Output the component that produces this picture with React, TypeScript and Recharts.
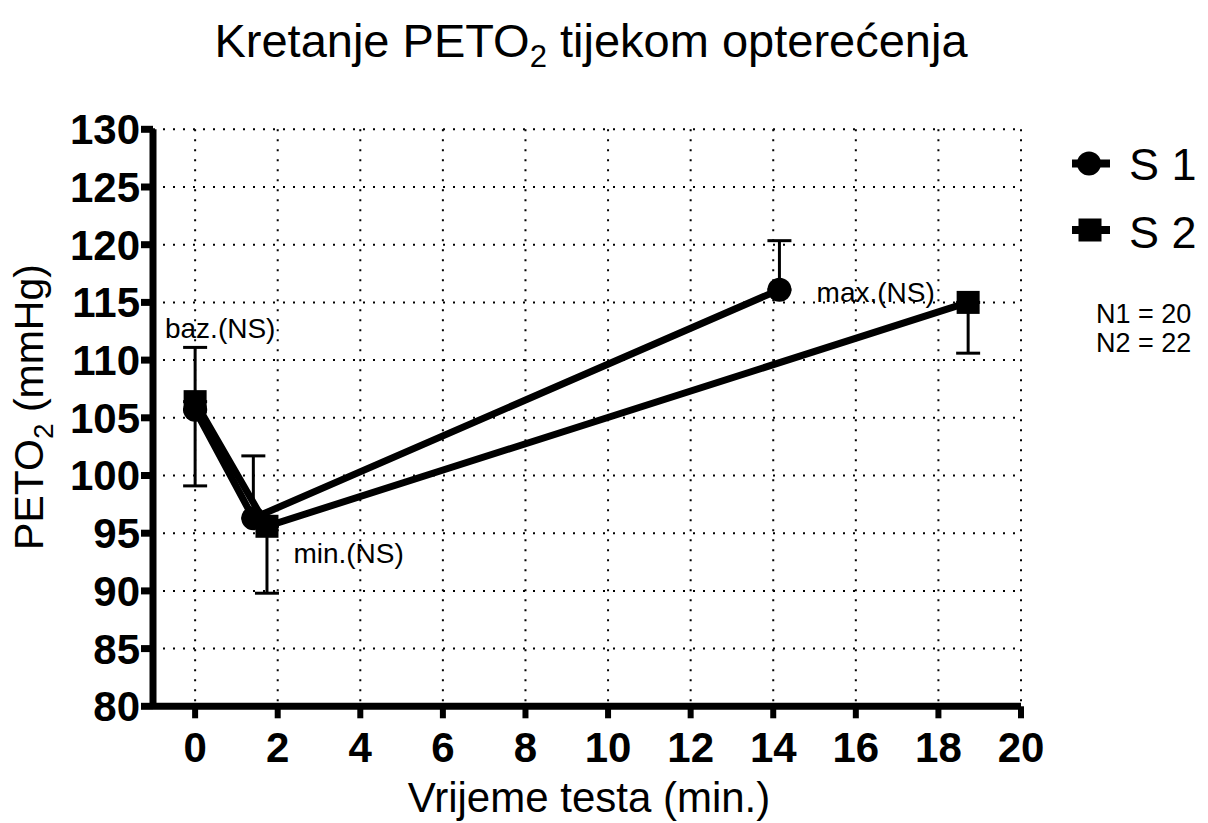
import {
  ComposedChart,
  Line,
  XAxis,
  YAxis,
  CartesianGrid,
  ErrorBar,
  ReferenceDot,
} from 'recharts';

const FONT = '"Liberation Sans", Arial, Helvetica, sans-serif';

// S 1 (circles), error drawn upward
const S1_X = [0, 1.41, 14.15];
const S1_Y = [105.7, 96.3, 116.1];
const S1_ERR_UP = [5.4, 5.4, 4.25];

// S 2 (squares), error drawn downward
const S2_X = [0, 1.74, 18.72];
const S2_Y = [106.4, 95.6, 115.0];
const S2_ERR_DOWN = [7.3, 5.8, 4.4];

const SERIES_NAMES = ['S 1', 'S 2'];
const SAMPLE_SIZES = ['N1 = 20', 'N2 = 22'];

const X_TICKS = [0, 2, 4, 6, 8, 10, 12, 14, 16, 18, 20];
const Y_TICKS = [80, 85, 90, 95, 100, 105, 110, 115, 120, 125, 130];

const NOTE_TEXT = ['baz.(NS)', 'min.(NS)', 'max.(NS)'];
const NOTE_X = [-0.73, 2.38, 15.05];
const NOTE_Y = [111.94, 92.4, 115.06];

const s1Data = S1_X.map((x, i) => ({ x, y: S1_Y[i], err: [0, S1_ERR_UP[i]] }));
const s2Data = S2_X.map((x, i) => ({ x, y: S2_Y[i], err: [S2_ERR_DOWN[i], 0] }));

function CircleDot(props: any) {
  const { cx, cy, index } = props;
  if (cx == null || cy == null) return null;
  return <circle key={`c-${index}`} cx={cx} cy={cy} r={12} fill="#000" />;
}

function SquareDot(props: any) {
  const { cx, cy, index } = props;
  if (cx == null || cy == null) return null;
  return <rect key={`s-${index}`} x={cx - 11.5} y={cy - 11.5} width={23} height={23} fill="#000" />;
}

function NoteLabel(props: any) {
  const vb = props.viewBox || {};
  return (
    <text x={vb.x} y={vb.y} fontFamily={FONT} fontSize={28} fill="#000">
      {props.text}
    </text>
  );
}

export default function App() {
  return (
    <div style={{ position: 'absolute', left: 0, top: 0, width: 1208, height: 823, background: '#fff' }}>
      <ComposedChart
        width={1208}
        height={823}
        margin={{ top: 129.3, right: 187, bottom: 56.7, left: 0 }}
      >
        <CartesianGrid
          stroke="#000"
          strokeWidth={2}
          strokeDasharray="2 8"
          vertical
          horizontal
        />
        <XAxis
          type="number"
          dataKey="x"
          domain={[-1.02, 20]}
          ticks={X_TICKS}
          allowDataOverflow
          height={60}
          axisLine={{ stroke: '#000', strokeWidth: 7 }}
          tickLine={{ stroke: '#000', strokeWidth: 6 }}
          tickSize={12}
          tickMargin={14}
          tick={{ fill: '#000', fontSize: 42, fontWeight: 'bold', fontFamily: FONT }}
        />
        <YAxis
          type="number"
          domain={[80, 130]}
          ticks={Y_TICKS}
          allowDataOverflow
          width={153}
          axisLine={{ stroke: '#000', strokeWidth: 7 }}
          tickLine={{ stroke: '#000', strokeWidth: 7 }}
          tickSize={12}
          tickMargin={1}
          tick={{ fill: '#000', fontSize: 42, fontWeight: 'bold', fontFamily: FONT }}
        />
        <Line
          data={s1Data}
          dataKey="y"
          type="linear"
          stroke="#000"
          strokeWidth={7}
          dot={CircleDot}
          activeDot={false}
          isAnimationActive={false}
        >
          <ErrorBar dataKey="err" direction="y" width={12} strokeWidth={3} stroke="#000" />
        </Line>
        <Line
          data={s2Data}
          dataKey="y"
          type="linear"
          stroke="#000"
          strokeWidth={7}
          dot={SquareDot}
          activeDot={false}
          isAnimationActive={false}
        >
          <ErrorBar dataKey="err" direction="y" width={12} strokeWidth={3} stroke="#000" />
        </Line>
        {NOTE_TEXT.map((t, i) => (
          <ReferenceDot
            key={t}
            x={NOTE_X[i]}
            y={NOTE_Y[i]}
            r={0}
            fill="none"
            stroke="none"
            label={<NoteLabel text={t} />}
          />
        ))}
      </ComposedChart>

      <svg
        width={1208}
        height={823}
        style={{ position: 'absolute', left: 0, top: 0, pointerEvents: 'none' }}
        fontFamily={FONT}
      >
        {/* title */}
        <text x={591} y={57} textAnchor="middle" fontSize={47} fill="#000">
          Kretanje PETO
          <tspan dy={10} fontSize={31}>2</tspan>
          <tspan dy={-10}> tijekom opterećenja</tspan>
        </text>

        {/* axis titles */}
        <text x={589} y={812} textAnchor="middle" fontSize={42} fill="#000">
          Vrijeme testa (min.)
        </text>
        <text
          x={43}
          y={407}
          textAnchor="middle"
          fontSize={41}
          fill="#000"
          transform="rotate(-90, 43, 407)"
        >
          PETO
          <tspan dy={10} fontSize={28}>2</tspan>
          <tspan dy={-10}> (mmHg)</tspan>
        </text>

        {/* legend */}
        <line x1={1072} y1={163.5} x2={1110} y2={163.5} stroke="#000" strokeWidth={8} />
        <circle cx={1089} cy={163.5} r={12} fill="#000" />
        <text x={1129} y={180} fontSize={45} fill="#000">{SERIES_NAMES[0]}</text>

        <line x1={1072} y1={230} x2={1110} y2={230} stroke="#000" strokeWidth={8} />
        <rect x={1078.5} y={218.5} width={23} height={23} fill="#000" />
        <text x={1129} y={248} fontSize={45} fill="#000">{SERIES_NAMES[1]}</text>

        <text x={1096} y={323} fontSize={27} fill="#000">{SAMPLE_SIZES[0]}</text>
        <text x={1096} y={352} fontSize={27} fill="#000">{SAMPLE_SIZES[1]}</text>
      </svg>
    </div>
  );
}
